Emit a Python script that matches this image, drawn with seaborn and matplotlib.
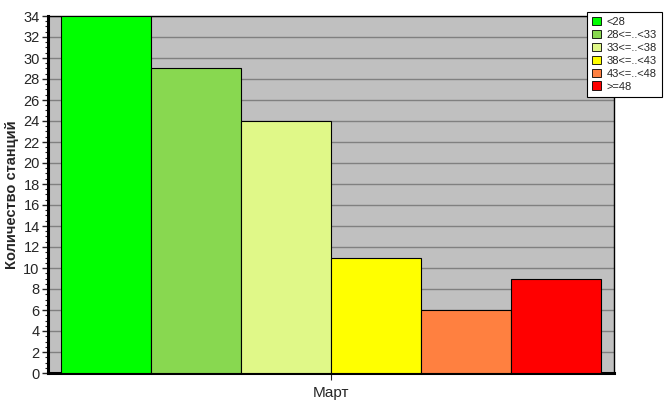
import numpy as np
import pandas as pd
import matplotlib
matplotlib.use("Agg")
import matplotlib.pyplot as plt
import seaborn as sns
from matplotlib.ticker import MultipleLocator

# ==========================================
# Данные
# ==========================================
MONTHS = ["Март"]
RANGES = ["<28", "28<=..<33", "33<=..<38", "38<=..<43", "43<=..<48", ">=48"]
COUNTS = [34, 29, 24, 11, 6, 9]
COLORS = ["#00FF00", "#88D850", "#E0F888", "#FFFF00", "#FF8040", "#FF0000"]

df = pd.DataFrame({
    "month": MONTHS * len(RANGES),
    "range": RANGES,
    "count": COUNTS,
})

sns.set_style("white")
plt.rcParams['font.family'] = ['Liberation Sans', 'DejaVu Sans']

fig = plt.figure(figsize=(6.67, 4.15), dpi=100)
# область графика в пикселях: x 48..614, y 16..373
ax = fig.add_axes([48 / 667, 1 - 373 / 415, 566 / 667, 357 / 415])
ax.set_facecolor("#C0C0C0")

sns.barplot(data=df, x="month", y="count", hue="range", hue_order=RANGES,
            palette=COLORS, width=540 / 566, gap=0, ax=ax,
            edgecolor="black", linewidth=0.8, saturation=1, zorder=3)

ax.set_xlim(-0.5, 0.5)
ax.set_ylim(0, 34)
ax.yaxis.set_major_locator(MultipleLocator(2))
ax.yaxis.set_minor_locator(MultipleLocator(0.5))
ax.grid(axis="y", which="major", color="#808080", linewidth=1, zorder=0)
ax.set_axisbelow(True)

for side in ["top", "right"]:
    ax.spines[side].set_linewidth(1)
    ax.spines[side].set_color("black")
for side in ["left", "bottom"]:
    ax.spines[side].set_linewidth(2.2)
    ax.spines[side].set_color("black")

ax.tick_params(axis="y", which="major", length=4, width=1, labelsize=10.5, pad=2, left=True)
ax.tick_params(axis="y", which="minor", length=2, width=0.8, left=True)
ax.tick_params(axis="x", length=5, width=0.8, labelsize=11, pad=4, bottom=True, direction="out")

ax.set_xlabel("")
ax.set_ylabel("Количество станций", fontsize=10.5, fontweight="bold", labelpad=3)

leg = ax.legend(loc="upper left", bbox_to_anchor=(587 / 667, 1 - 12 / 415),
                bbox_transform=fig.transFigure, fontsize=8, frameon=True,
                fancybox=False, edgecolor="black", framealpha=1,
                handlelength=0.8, handleheight=0.8, handletextpad=0.5,
                labelspacing=0.25, borderpad=0.45, borderaxespad=0)
leg.get_frame().set_linewidth(0.8)
for h in leg.legend_handles:
    h.set_edgecolor("black")
    h.set_linewidth(0.6)

fig.savefig("out.png", dpi=100)
